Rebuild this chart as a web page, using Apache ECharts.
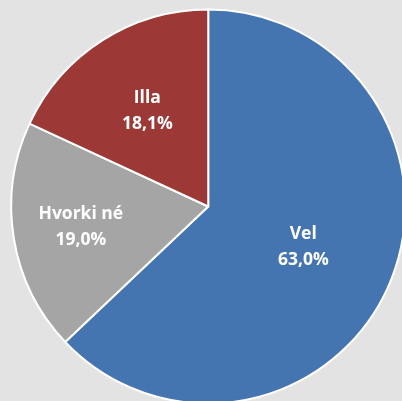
<!DOCTYPE html>
<html>
<head>
<meta charset="utf-8">
<script src="https://cdn.jsdelivr.net/npm/echarts@6/dist/echarts.min.js"></script>
<style>
  html, body { margin: 0; padding: 0; background: #e3e3e3; }
  #chart { width: 402px; height: 401px; }
</style>
</head>
<body>
<div id="chart"></div>
<script>
// Answer categories and their shares (%)
const categories = ['Vel', 'Hvorki né', 'Illa'];
const shares = [63.0, 19.0, 18.1];
const colors = ['#4575b0', '#a5a5a5', '#9c3936'];
// How far out along each slice its label sits, as a fraction of the radius
const labelDepth = [0.51, 0.64, 0.56];

const RADIUS = 197;
const fmt = v => v.toFixed(1).replace('.', ',') + '%';

// Mid angle of each slice, clockwise from 12 o'clock (radians)
const total = shares.reduce((a, b) => a + b, 0);
const midAngles = [];
let acc = 0;
shares.forEach(v => {
  midAngles.push((acc + v / 2) / total * Math.PI * 2);
  acc += v;
});

const chart = echarts.init(document.getElementById('chart'), null, { renderer: 'canvas' });

chart.setOption({
  backgroundColor: '#e3e3e3',
  animation: false,
  series: [{
    type: 'pie',
    center: ['51.8%', '51.5%'],
    radius: RADIUS,
    startAngle: 90,
    clockwise: true,
    avoidLabelOverlap: false,
    itemStyle: { borderColor: '#ffffff', borderWidth: 2 },
    label: {
      show: true,
      position: 'inside',
      color: '#ffffff',
      fontFamily: 'Open Sans',
      fontWeight: 'bold',
      fontSize: 17.5,
      lineHeight: 26,
      formatter: p => p.name + '\n' + fmt(p.value)
    },
    // shift each label radially from the default half-radius spot
    labelLayout: p => {
      const i = p.dataIndex;
      const d = (labelDepth[i] - 0.5) * RADIUS;
      return { dx: Math.sin(midAngles[i]) * d, dy: -Math.cos(midAngles[i]) * d };
    },
    labelLine: { show: false },
    data: categories.map((c, i) => ({
      name: c,
      value: shares[i],
      itemStyle: { color: colors[i] }
    }))
  }]
});
</script>
</body>
</html>
